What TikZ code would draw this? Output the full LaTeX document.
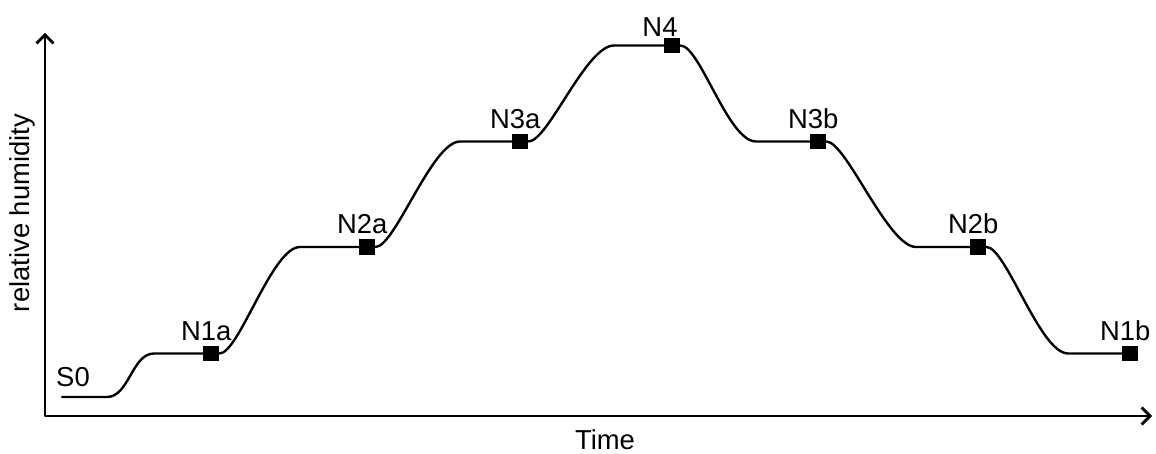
\documentclass[tikz,border=0pt]{standalone}
\usepackage{fontspec}
\setmainfont{Liberation Sans}
\usetikzlibrary{arrows.meta}

\begin{document}
\begin{tikzpicture}[line cap=round,line join=round,>={Straight Barb[length=6pt,width=12pt]},
  every node/.style={font=\fontsize{19.5}{23}\selectfont},
  sample/.style={fill=black,draw=none,minimum width=0.41cm,minimum height=0.39cm,inner sep=0pt,label distance=-1pt},
  lbl/.style={xshift=-0.12cm}]
\useasboundingbox (0,0) rectangle (28.9,11.35);
% axes
\coordinate (O) at (1.125,0.95);
\coordinate (ytop) at (1.125,10.525);
\coordinate (xend) at (28.8,0.95);
\draw [line width=2pt,<->] (ytop) -- (O) -- (xend);
\node[rotate=90] (ylbl) at (0.55,6.025) {relative humidity};
\node (xlbl) at (15.125,0.35) {Time};
% plateaus
\coordinate (s0) at (1.55,1.425);
\coordinate (s0e) at (2.675,1.425);
\coordinate (n1s) at (3.85,2.5125);
\coordinate (n2s) at (7.5,5.175);
\coordinate (n3s) at (11.5,7.8125);
\coordinate (n4s) at (15.35,10.2125);
\coordinate (n3e) at (18.9,7.8125);
\coordinate (n2e) at (22.9,5.175);
\coordinate (n1e) at (26.7,2.5125);
\node (s0lbl) at (1.825,1.925) {S0};
\node[sample,label={[lbl]above:N1a}] (N1a) at (5.275,2.5125) {};
\node[sample,label={[lbl]above:N2a}] (N2a) at (9.175,5.175) {};
\node[sample,label={[lbl]above:N3a}] (N3a) at (13.0,7.8125) {};
\node[sample,label={[lbl,xshift=-0.18cm,yshift=-0.11cm]above:N4}] (N4) at (16.8,10.2125) {};
\node[sample,label={[lbl]above:N3b}] (N3b) at (20.45,7.8125) {};
\node[sample,label={[lbl]above:N2b}] (N2b) at (24.45,5.175) {};
\node[sample,label={[lbl]above:N1b}] (N1b) at (28.25,2.5125) {};
% humidity steps
\draw [line width=1.7pt] (s0) -- (s0e) .. controls +(0.55,0) and +(-0.55,0) .. (n1s) -- (N1a)
  (N1a) .. controls +(0.7,0) and +(-0.7,0) .. (n2s) -- (N2a)
  (N2a) .. controls +(0.7,0) and +(-0.7,0) .. (n3s) -- (N3a)
  (N3a) .. controls +(0.7,0) and +(-0.7,0) .. (n4s) -- (N4)
  (N4) .. controls +(0.7,0) and +(-0.7,0) .. (n3e) -- (N3b)
  (N3b) .. controls +(0.7,0) and +(-0.7,0) .. (n2e) -- (N2b)
  (N2b) .. controls +(0.7,0) and +(-0.7,0) .. (n1e) -- (N1b);
\end{tikzpicture}
\end{document}
